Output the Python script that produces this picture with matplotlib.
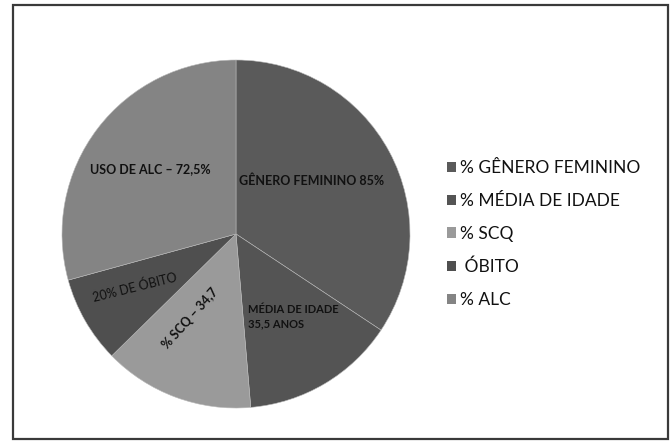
import matplotlib
matplotlib.use("Agg")
import matplotlib.pyplot as plt
from matplotlib.patches import Rectangle, Patch
import numpy as np

# Data
legend_labels = ["% GÊNERO FEMININO", "% MÉDIA DE IDADE", "% SCQ", " ÓBITO", "% ALC"]
values = [85, 35.5, 34.7, 20, 72.5]
slice_labels = ["GÊNERO FEMININO 85%", "MÉDIA DE IDADE\n35,5 ANOS", "% SCQ – 34,7",
                "20% DE ÓBITO", "USO DE ALC – 72,5%"]
colors = ["#5a5a5a", "#545454", "#9a9a9a", "#4f4f4f", "#848484"]

plt.rcParams["font.family"] = ["Lato", "DejaVu Sans"]

W, H = 670, 442
fig = plt.figure(figsize=(W / 100, H / 100), dpi=100)

# Outer frame
fig.patches.append(Rectangle((13 / W, 1 - 439 / H), 655 / W, 434 / H,
                             transform=fig.transFigure, fill=False,
                             edgecolor="#3a3a3a", linewidth=1.6))

# Pie axes (centre ~ (236, 234) px, radius ~174 px)
cx, cy, r = 236, 234, 174
ax = fig.add_axes([(cx - r) / W, (H - cy - r) / H, 2 * r / W, 2 * r / H])
wedges, _ = ax.pie(values, colors=colors, startangle=90, counterclock=False,
                   wedgeprops=dict(edgecolor="#b8b8b8", linewidth=0.4))
ax.set_xlim(-1, 1)
ax.set_ylim(-1, 1)
ax.set_aspect("equal")
ax.axis("off")

# Per-slice label placement: (radius, angle offset in deg, rotation, size)
place = [
    (0.53, 7, 0, 9),
    (0.55, 0, 0, 8),
    (0.55, -8, 48, 9),
    (0.66, -2, 14, 9),
    (0.62, 0, 0, 9),
]
for w, text, (rad, dang, rot, fs) in zip(wedges, slice_labels, place):
    mid = np.deg2rad((w.theta1 + w.theta2) / 2 + dang)
    x, y = rad * np.cos(mid), rad * np.sin(mid)
    weight = "normal" if text.startswith("20%") else "bold"
    if "\n" in text:
        ax.text(x - 0.21, y, text, ha="left", va="center", fontsize=fs,
                fontweight="bold", color="#111111", linespacing=1.4)
    else:
        ax.text(x, y, text, ha="center", va="center", fontsize=fs, rotation=rot,
                fontweight=weight, color="#111111", rotation_mode="anchor")

# Legend
handles = [Patch(facecolor=c, edgecolor="none") for c in colors]
fig.legend(handles, legend_labels, loc="center left",
           bbox_to_anchor=(431 / W, 1 - 234 / H), frameon=False,
           fontsize=12.5, handlelength=0.55, handleheight=0.55, handletextpad=0.2,
           labelspacing=0.97, labelcolor="#111111")

fig.savefig("out.png", dpi=100, facecolor="white")
